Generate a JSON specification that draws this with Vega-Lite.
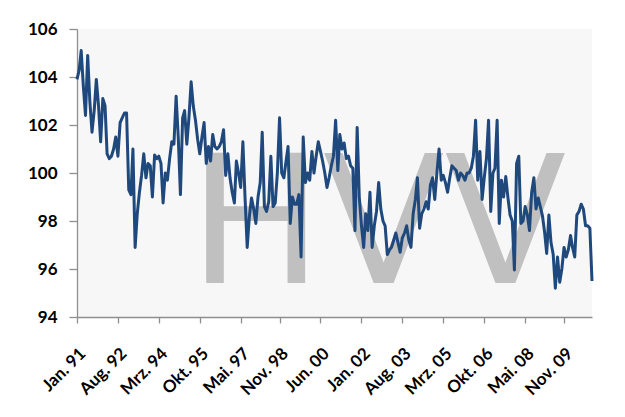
{
"$schema": "https://vega.github.io/schema/vega-lite/v6.json",
"width": 515, "height": 288,
"autosize": {"type": "none"},
"padding": {"left": 77, "top": 29, "right": 33, "bottom": 100},
"background": "white",
"config": {"view": {"fill": "#f7f7f7", "stroke": null}},
"data": {"values": [
{"t":"1991-01","v":103.9},{"t":"1991-02","v":104.3},{"t":"1991-03","v":105.1},{"t":"1991-04","v":103.6},{"t":"1991-05","v":102.4},{"t":"1991-06","v":104.9},{"t":"1991-07","v":103.0},{"t":"1991-08","v":101.7},{"t":"1991-09","v":102.6},{"t":"1991-10","v":103.9},{"t":"1991-11","v":102.8},{"t":"1991-12","v":101.3},
{"t":"1992-01","v":103.1},{"t":"1992-02","v":102.8},{"t":"1992-03","v":100.8},{"t":"1992-04","v":100.6},{"t":"1992-05","v":100.7},{"t":"1992-06","v":101.0},{"t":"1992-07","v":101.5},{"t":"1992-08","v":100.7},{"t":"1992-09","v":102.1},{"t":"1992-10","v":102.3},{"t":"1992-11","v":102.5},{"t":"1992-12","v":102.5},
{"t":"1993-01","v":99.3},{"t":"1993-02","v":99.1},{"t":"1993-03","v":101.0},{"t":"1993-04","v":96.9},{"t":"1993-05","v":98.3},{"t":"1993-06","v":99.2},{"t":"1993-07","v":99.9},{"t":"1993-08","v":100.8},{"t":"1993-09","v":99.8},{"t":"1993-10","v":100.4},{"t":"1993-11","v":100.3},{"t":"1993-12","v":99.0},
{"t":"1994-01","v":100.75},{"t":"1994-02","v":100.6},{"t":"1994-03","v":100.7},{"t":"1994-04","v":100.4},{"t":"1994-05","v":98.75},{"t":"1994-06","v":100.0},{"t":"1994-07","v":99.7},{"t":"1994-08","v":100.6},{"t":"1994-09","v":101.3},{"t":"1994-10","v":101.2},{"t":"1994-11","v":103.2},{"t":"1994-12","v":101.5},
{"t":"1995-01","v":99.1},{"t":"1995-02","v":102.3},{"t":"1995-03","v":102.6},{"t":"1995-04","v":101.2},{"t":"1995-05","v":102.3},{"t":"1995-06","v":103.8},{"t":"1995-07","v":102.8},{"t":"1995-08","v":102.2},{"t":"1995-09","v":101.4},{"t":"1995-10","v":100.8},{"t":"1995-11","v":101.5},{"t":"1995-12","v":102.1},
{"t":"1996-01","v":100.4},{"t":"1996-02","v":101.1},{"t":"1996-03","v":100.5},{"t":"1996-04","v":101.6},{"t":"1996-05","v":101.1},{"t":"1996-06","v":101.0},{"t":"1996-07","v":101.1},{"t":"1996-08","v":101.3},{"t":"1996-09","v":101.8},{"t":"1996-10","v":99.9},{"t":"1996-11","v":100.8},{"t":"1996-12","v":99.8},
{"t":"1997-01","v":99.2},{"t":"1997-02","v":98.75},{"t":"1997-03","v":100.5},{"t":"1997-04","v":100.0},{"t":"1997-05","v":99.4},{"t":"1997-06","v":101.3},{"t":"1997-07","v":99.0},{"t":"1997-08","v":96.9},{"t":"1997-09","v":98.2},{"t":"1997-10","v":98.96},{"t":"1997-11","v":98.5},{"t":"1997-12","v":97.9},
{"t":"1998-01","v":99.0},{"t":"1998-02","v":99.6},{"t":"1998-03","v":101.7},{"t":"1998-04","v":98.6},{"t":"1998-05","v":98.4},{"t":"1998-06","v":98.8},{"t":"1998-07","v":100.7},{"t":"1998-08","v":98.6},{"t":"1998-09","v":98.75},{"t":"1998-10","v":100.0},{"t":"1998-11","v":102.3},{"t":"1998-12","v":100.0},
{"t":"1999-01","v":99.8},{"t":"1999-02","v":100.5},{"t":"1999-03","v":101.1},{"t":"1999-04","v":97.9},{"t":"1999-05","v":99.0},{"t":"1999-06","v":98.7},{"t":"1999-07","v":98.7},{"t":"1999-08","v":99.1},{"t":"1999-09","v":96.5},{"t":"1999-10","v":101.5},{"t":"1999-11","v":99.6},{"t":"1999-12","v":100.0},
{"t":"2000-01","v":99.7},{"t":"2000-02","v":100.9},{"t":"2000-03","v":100.0},{"t":"2000-04","v":100.7},{"t":"2000-05","v":101.3},{"t":"2000-06","v":100.9},{"t":"2000-07","v":100.5},{"t":"2000-08","v":100.0},{"t":"2000-09","v":99.4},{"t":"2000-10","v":99.8},{"t":"2000-11","v":100.3},{"t":"2000-12","v":100.7},
{"t":"2001-01","v":102.2},{"t":"2001-02","v":100.1},{"t":"2001-03","v":101.6},{"t":"2001-04","v":101.0},{"t":"2001-05","v":101.25},{"t":"2001-06","v":100.6},{"t":"2001-07","v":100.7},{"t":"2001-08","v":100.3},{"t":"2001-09","v":100.2},{"t":"2001-10","v":97.6},{"t":"2001-11","v":101.9},{"t":"2001-12","v":99.0},
{"t":"2002-01","v":97.8},{"t":"2002-02","v":96.9},{"t":"2002-03","v":98.3},{"t":"2002-04","v":97.6},{"t":"2002-05","v":99.2},{"t":"2002-06","v":96.9},{"t":"2002-07","v":97.8},{"t":"2002-08","v":98.4},{"t":"2002-09","v":99.6},{"t":"2002-10","v":98.5},{"t":"2002-11","v":98.0},{"t":"2002-12","v":97.8},
{"t":"2003-01","v":96.6},{"t":"2003-02","v":96.8},{"t":"2003-03","v":96.9},{"t":"2003-04","v":97.2},{"t":"2003-05","v":97.5},{"t":"2003-06","v":97.1},{"t":"2003-07","v":96.7},{"t":"2003-08","v":97.3},{"t":"2003-09","v":97.5},{"t":"2003-10","v":97.8},{"t":"2003-11","v":97.2},{"t":"2003-12","v":96.9},
{"t":"2004-01","v":98.3},{"t":"2004-02","v":98.9},{"t":"2004-03","v":99.8},{"t":"2004-04","v":97.7},{"t":"2004-05","v":98.3},{"t":"2004-06","v":98.5},{"t":"2004-07","v":98.8},{"t":"2004-08","v":98.5},{"t":"2004-09","v":99.5},{"t":"2004-10","v":99.8},{"t":"2004-11","v":98.9},{"t":"2004-12","v":100.0},
{"t":"2005-01","v":101.0},{"t":"2005-02","v":99.7},{"t":"2005-03","v":99.9},{"t":"2005-04","v":99.6},{"t":"2005-05","v":99.2},{"t":"2005-06","v":99.8},{"t":"2005-07","v":100.3},{"t":"2005-08","v":100.2},{"t":"2005-09","v":100.1},{"t":"2005-10","v":99.7},{"t":"2005-11","v":100.0},{"t":"2005-12","v":99.9},
{"t":"2006-01","v":99.7},{"t":"2006-02","v":100.0},{"t":"2006-03","v":100.0},{"t":"2006-04","v":100.2},{"t":"2006-05","v":100.7},{"t":"2006-06","v":102.2},{"t":"2006-07","v":99.7},{"t":"2006-08","v":100.9},{"t":"2006-09","v":98.9},{"t":"2006-10","v":99.8},{"t":"2006-11","v":100.6},{"t":"2006-12","v":102.2},
{"t":"2007-01","v":98.4},{"t":"2007-02","v":100.0},{"t":"2007-03","v":100.2},{"t":"2007-04","v":102.2},{"t":"2007-05","v":97.9},{"t":"2007-06","v":99.7},{"t":"2007-07","v":99.0},{"t":"2007-08","v":99.85},{"t":"2007-09","v":98.96},{"t":"2007-10","v":98.25},{"t":"2007-11","v":98.0},{"t":"2007-12","v":95.96},
{"t":"2008-01","v":100.4},{"t":"2008-02","v":100.7},{"t":"2008-03","v":97.9},{"t":"2008-04","v":98.0},{"t":"2008-05","v":98.6},{"t":"2008-06","v":98.25},{"t":"2008-07","v":97.6},{"t":"2008-08","v":99.2},{"t":"2008-09","v":99.8},{"t":"2008-10","v":98.5},{"t":"2008-11","v":98.96},{"t":"2008-12","v":98.6},
{"t":"2009-01","v":98.2},{"t":"2009-02","v":97.5},{"t":"2009-03","v":96.65},{"t":"2009-04","v":98.25},{"t":"2009-05","v":97.1},{"t":"2009-06","v":96.6},{"t":"2009-07","v":95.2},{"t":"2009-08","v":96.5},{"t":"2009-09","v":95.45},{"t":"2009-10","v":96.0},{"t":"2009-11","v":96.9},{"t":"2009-12","v":96.5},
{"t":"2010-01","v":96.8},{"t":"2010-02","v":97.4},{"t":"2010-03","v":96.9},{"t":"2010-04","v":96.5},{"t":"2010-05","v":98.25},{"t":"2010-06","v":98.4},{"t":"2010-07","v":98.7},{"t":"2010-08","v":98.5},{"t":"2010-09","v":97.8},{"t":"2010-10","v":97.8},{"t":"2010-11","v":97.7},{"t":"2010-12","v":95.5}
]},
"layer": [
{
"data": {"values": [{"label": "HVV"}]},
"mark": {"type": "text", "font": "DejaVu Sans", "fontSize": 178, "color": "#8a8a8a", "opacity": 0.5, "align": "center", "baseline": "alphabetic"},
"encoding": {
"text": {"field": "label", "type": "nominal"},
"x": {"datum": {"year": 2002, "month": 8, "date": 15, "utc": true}, "type": "temporal"},
"y": {"datum": 95.4, "type": "quantitative"}
}
},
{
"mark": {"type": "line", "color": "#1F497D", "strokeWidth": 3, "strokeJoin": "round"},
"encoding": {
"x": {"field": "t", "type": "temporal",
"scale": {"type": "utc", "nice": false, "domain": [{"year": 1991, "month": 1, "date": 1, "utc": true}, {"year": 2010, "month": 12, "date": 1, "utc": true}]},
"axis": {"title": null, "grid": false,
"values": [{"year":1991,"month":1,"date":1,"utc":true},{"year":1992,"month":8,"date":1,"utc":true},{"year":1994,"month":3,"date":1,"utc":true},{"year":1995,"month":10,"date":1,"utc":true},{"year":1997,"month":5,"date":1,"utc":true},{"year":1998,"month":11,"date":1,"utc":true},{"year":2000,"month":6,"date":1,"utc":true},{"year":2002,"month":1,"date":1,"utc":true},{"year":2003,"month":8,"date":1,"utc":true},{"year":2005,"month":3,"date":1,"utc":true},{"year":2006,"month":10,"date":1,"utc":true},{"year":2008,"month":5,"date":1,"utc":true},{"year":2009,"month":11,"date":1,"utc":true}],
"labelExpr": "['Jan.','Feb.','Mrz.','Apr.','Mai.','Jun.','Jul.','Aug.','Sep.','Okt.','Nov.','Dez.'][utcmonth(datum.value)] + ' ' + utcFormat(datum.value, '%y')",
"labelAngle": -45, "labelAlign": "right", "labelBaseline": "top",
"labelFont": "Lato", "labelFontWeight": "bold", "labelFontSize": 17, "labelColor": "#000000",
"labelPadding": 22, "labelOverlap": false, "labelFlush": false,
"domainColor": "#8f8f8f", "domainWidth": 1.3, "tickColor": "#8f8f8f", "tickSize": 6, "tickWidth": 1.3}
},
"y": {"field": "v", "type": "quantitative",
"scale": {"domain": [94, 106], "nice": false, "zero": false},
"axis": {"title": null, "values": [94, 96, 98, 100, 102, 104, 106],
"labelFont": "Lato", "labelFontWeight": "bold", "labelFontSize": 17, "labelColor": "#000000",
"labelPadding": 12, "gridColor": "#959595", "gridWidth": 1.3, "gridOpacity": 1,
"domainColor": "#8f8f8f", "domainWidth": 1.3, "tickColor": "#8f8f8f", "tickSize": 8, "tickWidth": 1.3}
}
}
}
]
}
